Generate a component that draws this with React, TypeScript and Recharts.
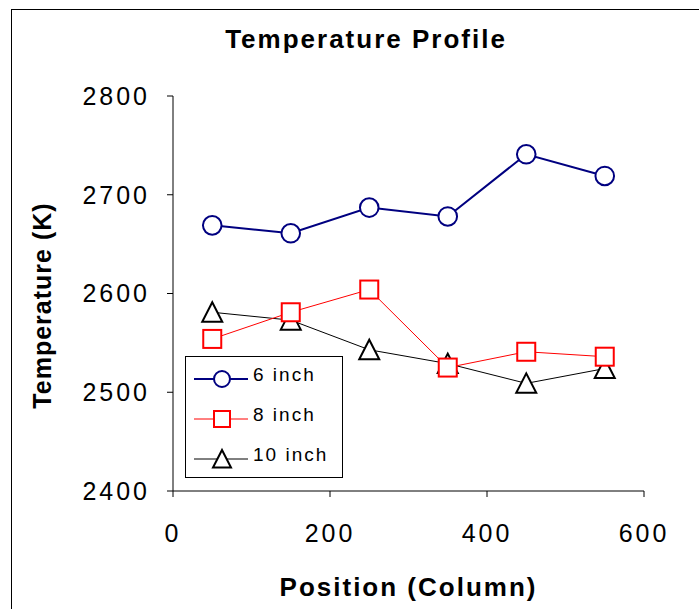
import { LineChart, Line, XAxis, YAxis, Legend, Label } from 'recharts';

const positions = [50, 150, 250, 350, 450, 550];
const sixInch = [2669, 2661, 2687, 2678, 2741, 2719];
const eightInch = [2554, 2581, 2604, 2525, 2541, 2536];
const tenInch = [2581, 2573, 2543, 2529, 2509, 2524];
const xTicks = [0, 200, 400, 600];
const yTicks = [2400, 2500, 2600, 2700, 2800];

const data = positions.map((p, i) => ({
  pos: p,
  six: sixInch[i],
  eight: eightInch[i],
  ten: tenInch[i],
}));

const FONT = '"Liberation Sans", Arial, sans-serif';
const NAVY = '#000080';
const RED = '#ff0000';

function Circle(props: any) {
  const { cx, cy, size = 9.3 } = props;
  if (cx == null || cy == null) return null;
  return <circle cx={cx} cy={cy} r={size} fill="#fff" stroke={NAVY} strokeWidth={2} />;
}

function Square(props: any) {
  const { cx, cy, size = 9 } = props;
  if (cx == null || cy == null) return null;
  return <rect x={cx - size} y={cy - size} width={size * 2} height={size * 2} fill="#fff" stroke={RED} strokeWidth={2} />;
}

function Triangle(props: any) {
  const { cx, cy, size = 10 } = props;
  if (cx == null || cy == null) return null;
  const pts = `${cx},${cy - size} ${cx - size},${cy + size * 0.95} ${cx + size},${cy + size * 0.95}`;
  return <polygon points={pts} fill="#fff" stroke="#000" strokeWidth={2} strokeLinejoin="miter" />;
}

const legendItems = [
  { label: '6 inch', color: NAVY, width: 2, Mark: Circle, size: 8 },
  { label: '8 inch', color: RED, width: 1, Mark: Square, size: 8 },
  { label: '10 inch', color: '#000', width: 1, Mark: Triangle, size: 9 },
];

function LegendBox() {
  return (
    <svg width={158} height={122} style={{ display: 'block' }}>
      <rect x={0.5} y={0.5} width={157} height={121} fill="#fff" stroke="#000" strokeWidth={1} />
      {legendItems.map((it, i) => {
        const y = 23 + i * 40;
        const M = it.Mark;
        return (
          <g key={it.label}>
            <line x1={9} x2={63} y1={y} y2={y} stroke={it.color} strokeWidth={it.width} />
            <M cx={37} cy={y} size={it.size} />
            <text x={68} y={y + 2} fontFamily={FONT} fontSize={19} letterSpacing={2} fill="#000">
              {it.label}
            </text>
          </g>
        );
      })}
    </svg>
  );
}

export default function App() {
  return (
    <div style={{ position: 'absolute', left: 0, top: 0, width: 699, height: 609, overflow: 'hidden', background: '#fff' }}>
      <div
        style={{
          position: 'absolute',
          left: 11,
          top: 9,
          width: 800,
          height: 700,
          border: '1.5px solid #000',
          boxSizing: 'border-box',
        }}
      />
      <div
        style={{
          position: 'absolute',
          left: 0,
          width: 732,
          top: 24,
          textAlign: 'center',
          fontFamily: FONT,
          fontWeight: 'bold',
          fontSize: 26,
          letterSpacing: 2,
          color: '#000',
        }}
      >
        Temperature Profile
      </div>
      <div style={{ position: 'absolute', left: 0, top: 0 }}>
        <LineChart width={699} height={609} data={data} margin={{ top: 96, right: 55, bottom: 0, left: 0 }}>
          <XAxis
            dataKey="pos"
            type="number"
            domain={[0, 600]}
            ticks={xTicks}
            height={118}
            stroke="#000"
            tickSize={6}
            tickMargin={27}
            tick={{ fill: '#000', fontFamily: FONT, fontSize: 25, letterSpacing: 3 }}
          >
            <Label
              content={(p: any) => {
                const vb = p.viewBox;
                return (
                  <text
                    x={vb.x + vb.width / 2}
                    y={vb.y + 105}
                    textAnchor="middle"
                    fontFamily={FONT}
                    fontWeight="bold"
                    fontSize={26}
                    letterSpacing={2}
                    fill="#000"
                  >
                    Position (Column)
                  </text>
                );
              }}
            />
          </XAxis>
          <XAxis xAxisId="top" orientation="top" type="number" domain={[0, 600]} tick={false} tickLine={false} height={0} stroke="#000" />
          <YAxis
            type="number"
            domain={[2400, 2800]}
            ticks={yTicks}
            width={173}
            stroke="#000"
            tickSize={6}
            tickMargin={17}
            tick={{ fill: '#000', fontFamily: FONT, fontSize: 25, letterSpacing: 3 }}
          >
            <Label
              content={(p: any) => {
                const vb = p.viewBox;
                const cx = 51;
                const cy = vb.y + vb.height / 2 + 12;
                return (
                  <text
                    x={cx}
                    y={cy}
                    transform={`rotate(-90 ${cx} ${cy})`}
                    textAnchor="middle"
                    fontFamily={FONT}
                    fontWeight="bold"
                    fontSize={25}
                    letterSpacing={1}
                    fill="#000"
                  >
                    Temperature (K)
                  </text>
                );
              }}
            />
          </YAxis>
          <YAxis yAxisId="right" orientation="right" type="number" domain={[2400, 2800]} tick={false} tickLine={false} width={0} stroke="#000" />
          <Legend
            layout="vertical"
            align="center"
            verticalAlign="middle"
            wrapperStyle={{ left: 185, top: 356, width: 158, height: 122 }}
            content={() => <LegendBox />}
          />
          <Line
            dataKey="ten"
            stroke="#000"
            strokeWidth={1}
            isAnimationActive={false}
            dot={(p: any) => <Triangle key={`t${p.index}`} cx={p.cx} cy={p.cy} />}
            activeDot={false}
          />
          <Line
            dataKey="eight"
            stroke={RED}
            strokeWidth={1}
            isAnimationActive={false}
            dot={(p: any) => <Square key={`s${p.index}`} cx={p.cx} cy={p.cy} />}
            activeDot={false}
          />
          <Line
            dataKey="six"
            stroke={NAVY}
            strokeWidth={2}
            isAnimationActive={false}
            dot={(p: any) => <Circle key={`c${p.index}`} cx={p.cx} cy={p.cy} />}
            activeDot={false}
          />
        </LineChart>
      </div>
    </div>
  );
}
